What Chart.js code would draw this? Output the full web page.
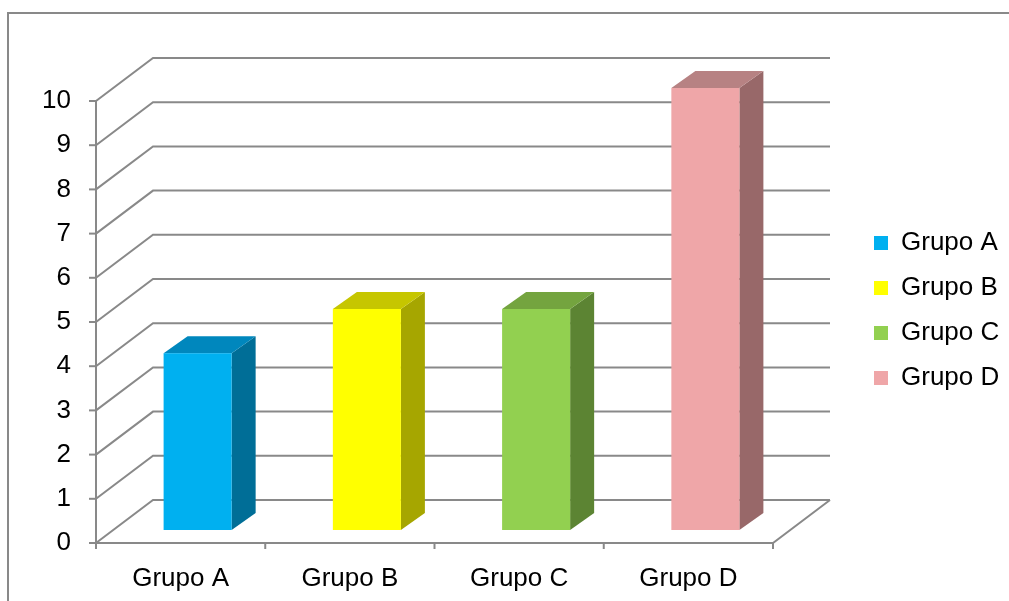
<!DOCTYPE html>
<html>
<head>
<meta charset="utf-8">
<script src="https://cdn.jsdelivr.net/npm/chart.js@4.4.0/dist/chart.umd.min.js"></script>
<style>
  html, body { margin: 0; padding: 0; background: #fff; }
  #wrap { width: 1009px; height: 601px; position: relative; }
</style>
</head>
<body>
<div id="wrap"><canvas id="chart"></canvas></div>
<script>
// data
const categories = ['Grupo A', 'Grupo B', 'Grupo C', 'Grupo D'];
const values = [4, 5, 5, 10];
const yMin = 0;
const yMax = 10;
const yStep = 1;

// colours for each group: front, top and side faces
const frontColors = ['#00B0F0', '#FFFF00', '#92D050', '#EFA6A8'];
const topColors = ['#0087BD', '#C6C600', '#74A43F', '#B78283'];
const sideColors = ['#006E97', '#A6A600', '#5C8433', '#986869'];

const GRID = '#898989';
const FONT = { family: 'Liberation Sans, Arial, sans-serif', size: 26 };
const WALL_DX = 57, WALL_DY = -43;   // depth of the back wall
const BAR_DX = 17, BAR_DY = -13;     // bars sit a bit into the floor
const BOX_DX = 24, BOX_DY = -17;     // depth of each bar

// one dataset per group so the legend lists all four
const datasets = categories.map((name, i) => ({
  label: name,
  data: categories.map((_, j) => (j === i ? values[i] : null)),
  backgroundColor: frontColors[i],
  borderWidth: 0,
}));

const frame3d = {
  id: 'frame3d',
  afterInit(chart) {
    const lg = chart.legend;
    const fit = lg.fit;
    lg.fit = function () {
      fit.call(this);
      this.width = 236;
    };
  },
  afterLayout(chart) {
    const lg = chart.legend;
    const w = lg.width, h = lg.height;
    lg.left = 855; lg.right = lg.left + w;
    lg.top = 211; lg.bottom = lg.top + h;
  },
  beforeDraw(chart) {
    const { ctx } = chart;
    ctx.save();
    ctx.strokeStyle = GRID;
    ctx.lineWidth = 2;
    ctx.beginPath();
    ctx.moveTo(8, 620);
    ctx.lineTo(8, 13);
    ctx.lineTo(1020, 13);
    ctx.stroke();
    ctx.restore();
  },
  beforeDatasetsDraw(chart) {
    const { ctx, chartArea: a, scales: { x, y } } = chart;
    ctx.save();
    ctx.strokeStyle = GRID;
    ctx.lineWidth = 2;
    y.ticks.forEach(t => {
      const py = y.getPixelForValue(t.value);
      ctx.beginPath();
      ctx.moveTo(a.left, py);
      ctx.lineTo(a.left + WALL_DX, py + WALL_DY);
      ctx.lineTo(a.right + WALL_DX, py + WALL_DY);
      ctx.stroke();
      ctx.beginPath();
      ctx.moveTo(a.left - 7, py);
      ctx.lineTo(a.left, py);
      ctx.stroke();
    });
    // value axis
    ctx.beginPath();
    ctx.moveTo(a.left, a.top);
    ctx.lineTo(a.left, a.bottom + 6);
    ctx.stroke();
    // floor front edge and right edge
    ctx.beginPath();
    ctx.moveTo(a.left, a.bottom);
    ctx.lineTo(a.right, a.bottom);
    ctx.lineTo(a.right + WALL_DX, a.bottom + WALL_DY);
    ctx.stroke();
    // category ticks at the boundaries
    const n = categories.length;
    for (let i = 0; i <= n; i++) {
      let px;
      if (i === 0) px = a.left;
      else if (i === n) px = a.right;
      else px = (x.getPixelForValue(i - 1) + x.getPixelForValue(i)) / 2;
      ctx.beginPath();
      ctx.moveTo(px, a.bottom);
      ctx.lineTo(px, a.bottom + 6);
      ctx.stroke();
    }
    ctx.restore();
  },
  beforeDatasetDraw(chart, args) {
    const { ctx } = chart;
    const i = args.index;
    const meta = args.meta;
    ctx.save();
    meta.data.forEach((bar, j) => {
      if (chart.data.datasets[i].data[j] == null) return;
      const w = bar.width;
      const left = bar.x - w / 2 + BAR_DX;
      const right = left + w;
      const top = bar.y + BAR_DY;
      const bottom = bar.base + BAR_DY;
      ctx.fillStyle = sideColors[i];
      ctx.beginPath();
      ctx.moveTo(right, top);
      ctx.lineTo(right + BOX_DX, top + BOX_DY);
      ctx.lineTo(right + BOX_DX, bottom + BOX_DY);
      ctx.lineTo(right, bottom);
      ctx.closePath();
      ctx.fill();
      ctx.fillStyle = topColors[i];
      ctx.beginPath();
      ctx.moveTo(left, top);
      ctx.lineTo(left + BOX_DX, top + BOX_DY);
      ctx.lineTo(right + BOX_DX, top + BOX_DY);
      ctx.lineTo(right, top);
      ctx.closePath();
      ctx.fill();
      ctx.fillStyle = frontColors[i];
      ctx.fillRect(left, top, w, bottom - top);
    });
    ctx.restore();
    return false;
  },
};

const ctx = document.getElementById('chart').getContext('2d');

const chart = new Chart(ctx, {
  type: 'bar',
  data: {
    labels: categories,
    datasets: datasets,
  },
  options: {
    responsive: true,
    maintainAspectRatio: false,
    animation: false,
    devicePixelRatio: 1,
    layout: {
      padding: { top: 101, right: 0, bottom: 0, left: 0 },
    },
    datasets: {
      bar: {
        grouped: false,
        categoryPercentage: 1,
        barPercentage: 0.402,
      },
    },
    scales: {
      x: {
        grid: { display: false },
        border: { display: false },
        ticks: { color: '#000', padding: 12, font: FONT },
        afterFit(s) { s.height = 58; },
      },
      y: {
        min: yMin,
        max: yMax,
        grid: { display: false },
        border: { display: false },
        ticks: { stepSize: yStep, color: '#000', padding: 17, font: FONT },
        afterFit(s) { s.width = 96; },
      },
    },
    plugins: {
      tooltip: { enabled: false },
      legend: {
        position: 'right',
        align: 'start',
        labels: {
          boxWidth: 14,
          boxHeight: 14,
          padding: 19,
          color: '#000',
          font: FONT,
        },
      },
    },
  },
  plugins: [frame3d],
});
</script>
</body>
</html>
